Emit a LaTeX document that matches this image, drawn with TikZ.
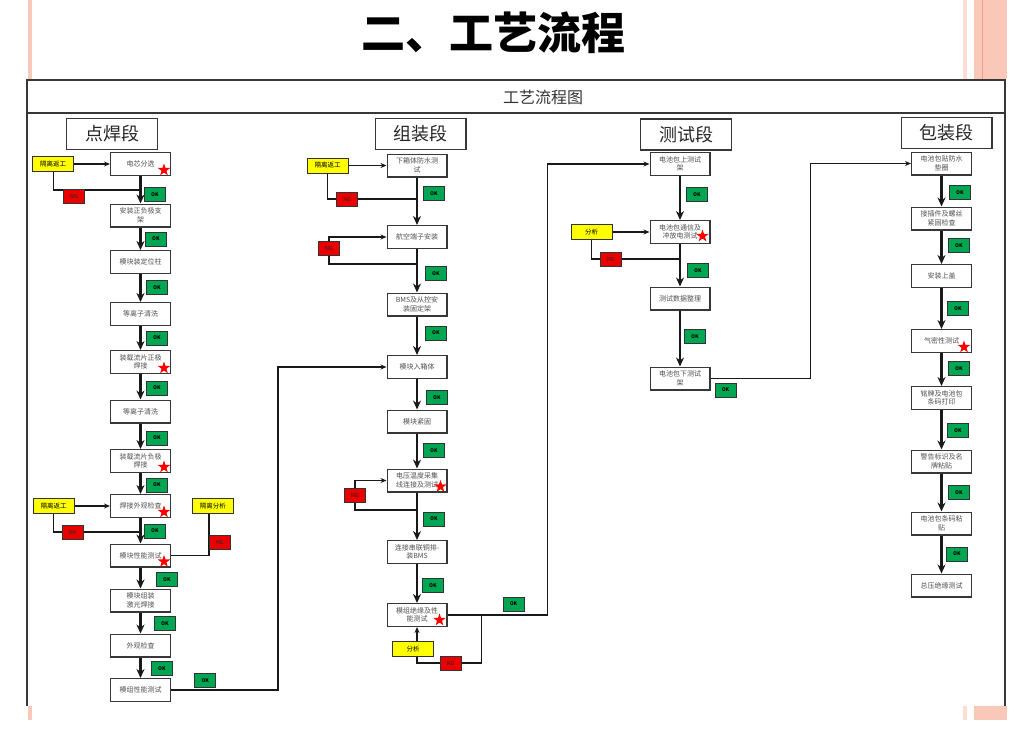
\documentclass[tikz,border=0pt]{standalone}
\usepackage{fontspec}
\setmainfont{Noto Sans CJK SC}
\usetikzlibrary{positioning,arrows.meta,shapes.geometric}
\definecolor{okgreen}{RGB}{0,166,81}
\definecolor{ngred}{RGB}{235,0,0}
\definecolor{holdyellow}{RGB}{255,255,0}
\definecolor{boxline}{RGB}{55,55,55}
\definecolor{lineblack}{RGB}{25,25,25}
\definecolor{textgray}{RGB}{80,80,80}
\definecolor{pinkdeco}{RGB}{250,200,185}
\definecolor{pinkdark}{RGB}{240,160,135}

\begin{document}
\begin{tikzpicture}[x=1pt, y=-1pt,
  proc/.style={draw=boxline, line width=1.4pt, fill=white, align=center, text width=55.6pt, inner xsep=2pt, minimum height=22.6pt, font=\fontsize{7}{8.5}\selectfont, text=textgray},
  head/.style={draw=boxline, line width=1.4pt, fill=white, minimum width=90.6pt, minimum height=30.6pt, font=\fontsize{18}{20}\selectfont, text=black!85},
  okbox/.style={draw=black!80, line width=0.9pt, fill=okgreen, minimum width=21pt, minimum height=14pt, inner sep=0pt, font=\fontsize{5}{6}\selectfont\bfseries, anchor=west},
  ngbox/.style={draw=black!80, line width=0.9pt, fill=ngred, minimum width=21pt, minimum height=14pt, inner sep=0pt, font=\fontsize{5.5}{6}\selectfont, text=black!85},
  holdbox/.style={draw=black!80, line width=0.9pt, fill=holdyellow, minimum width=41pt, minimum height=15pt, inner sep=0pt, font=\fontsize{6.5}{7}\selectfont},
  starmark/.style={star, star points=5, star point ratio=2.5, fill=red, inner sep=0pt, minimum size=13pt},
  arr/.style={-{Stealth[length=9pt,width=8pt]}, line width=2.5pt, draw=lineblack},
  thinarr/.style={-{Stealth[length=6pt,width=5pt]}, line width=1.1pt, draw=lineblack},
  link/.style={line width=1.1pt, draw=lineblack},
  frame/.style={line width=1.3pt, draw=boxline}
]
\useasboundingbox (0,0) rectangle (1027,733);

% slide decoration and frame
\fill[pinkdeco] (28,0) rectangle (32,79);
\fill[pinkdeco!60] (963,0) rectangle (967,79);
\fill[pinkdeco] (974,0) rectangle (1007,79);
\draw[pinkdark, line width=1pt] (982,0) -- (982,79);
\fill[pinkdeco] (28,706) rectangle (32,720);
\fill[pinkdeco!60] (963,706) rectangle (967,720);
\fill[pinkdeco] (974,706) rectangle (1007,720);
\node[font=\fontsize{44}{46}\selectfont\bfseries] (title) at (493,33) {二、工艺流程};
\draw[frame] (27,706) -- (27,80) -- (1005,80) -- (1005,706);
\draw[frame] (27,113) -- (1005,113);
\node[font=\fontsize{16}{18}\selectfont, text=black!80] (charttitle) at (543,97) {工艺流程图};

% stage headers
\node[head] (hd1) at (112,134) {点焊段};
\node[head] (hd2) at (420.5,134) {组装段};
\node[head] (hd3) at (686,134.5) {测试段};
\node[head] (hd4) at (946.5,133) {包装段};

% spot welding
\node[proc] (a1) at (140.5,164) {电芯分选};
\node[proc, below=27.5pt of a1] (a2) {安装正负极支\\架};
\node[proc, below=22.5pt of a2] (a3) {模块装定位柱};
\node[proc, below=28pt of a3] (a4) {等离子清洗};
\node[proc, below=24pt of a4] (a5) {装载流片正极\\焊接};
\node[proc, below=25.5pt of a5] (a6) {等离子清洗};
\node[proc, below=25.5pt of a6] (a7) {装载流片负极\\焊接};
\node[proc, below=21pt of a7] (a8) {焊接外观检查};
\node[proc, below=25.5pt of a8] (a9) {模块性能测试};
\node[proc, below=21pt of a9] (a10) {模块组装\\激光焊接};
\node[proc, below=21pt of a10] (a11) {外观检查};
\node[proc, below=20.5pt of a11] (a12) {模组性能测试};
\draw[arr] (a1) -- node[okbox, pos=.67, xshift=3.5pt] (ok1) {OK} (a2);
\draw[arr] (a2) -- node[okbox, pos=.51, xshift=4.5pt] (ok2) {OK} (a3);
\draw[arr] (a3) -- node[okbox, pos=.48, xshift=5.5pt] (ok3) {OK} (a4);
\draw[arr] (a4) -- node[okbox, pos=.5, xshift=5.5pt] (ok4) {OK} (a5);
\draw[arr] (a5) -- node[okbox, pos=.55, xshift=5.5pt] (ok5) {OK} (a6);
\draw[arr] (a6) -- node[okbox, pos=.57, xshift=5.5pt] (ok6) {OK} (a7);
\draw[arr] (a7) -- node[okbox, pos=.57, xshift=5.5pt] (ok7) {OK} (a8);
\draw[arr] (a8) -- node[okbox, pos=.51, xshift=3.5pt] (ok8) {OK} (a9);
\draw[arr] (a9) -- node[okbox, pos=.57, xshift=15.5pt] (ok9) {OK} (a10);
\draw[arr] (a10) -- node[okbox, pos=.52, xshift=13.5pt] (ok10) {OK} (a11);
\draw[arr] (a11) -- node[okbox, pos=.54, xshift=10.5pt] (ok11) {OK} (a12);
\node[holdbox, left=36pt of a1] (rw1) {隔离返工};
\coordinate (j1) at ([yshift=-14pt]a1.south);
\draw[thinarr] (rw1) -- (a1);
\draw[link] (rw1.south) |- node[ngbox, pos=.62, yshift=-6pt] (ng1) {NG} (j1);
\node[holdbox, left=35.5pt of a8] (rw2) {隔离返工};
\coordinate (j2) at ([yshift=-14pt]a8.south);
\draw[thinarr] (rw2) -- (a8);
\draw[link] (rw2.south) |- node[ngbox, pos=.61] (ng2) {NG} (j2);
\node[holdbox, right=21pt of a8] (an1) {隔离分析};
\draw[link] ([xshift=-4pt]an1.south) |- node[ngbox, pos=.34, anchor=west] (ng3) {NG} (a9.east);

% assembly
\node[proc] (b1) at (417,165.5) {下箱体防水测\\试};
\node[proc, below=47.5pt of b1] (b2) {航空端子安装};
\node[proc, below=43.5pt of b2] (b3) {BMS及从控安\\装固定架};
\node[proc, below=38.5pt of b3] (b4) {模块入箱体};
\node[proc, below=30.5pt of b4] (b5) {模块紧固};
\node[proc, below=35pt of b5] (b6) {电压温度采集\\线连接及测试};
\node[proc, below=47.5pt of b6] (b7) {连接串联铜排-\\装BMS};
\node[proc, below=39pt of b7] (b8) {模组绝缘及性\\能测试};
\draw[arr] (b1) -- node[okbox, pos=.33, xshift=6pt] (ok13) {OK} (b2);
\draw[arr] (b2) -- node[okbox, pos=.56, xshift=8pt] (ok14) {OK} (b3);
\draw[arr] (b3) -- node[okbox, pos=.43, xshift=8pt] (ok15) {OK} (b4);
\draw[arr] (b4) -- node[okbox, pos=.61, xshift=9pt] (ok16) {OK} (b5);
\draw[arr] (b5) -- node[okbox, pos=.49, xshift=6pt] (ok17) {OK} (b6);
\draw[arr] (b6) -- node[okbox, pos=.56, xshift=6pt] (ok18) {OK} (b7);
\draw[arr] (b7) -- node[okbox, pos=.56, xshift=5pt] (ok19) {OK} (b8);
\node[holdbox, left=38pt of b1] (rw3) {隔离返工};
\coordinate (j4) at ([yshift=-21.5pt]b1.south);
\draw[thinarr] (rw3) -- (b1);
\draw[link] (rw3.south) |- node[ngbox, pos=.61] (ng4) {NG} (j4);
\coordinate (j5) at ([yshift=-15pt]b2.south);
\draw[thinarr] (j5) -- ++(-88,0) |- node[ngbox, pos=.28] (ng5) {NG} (b2.west);
\coordinate (j6) at ([yshift=-17.5pt]b6.south);
\draw[thinarr] (j6) -- ++(-62,0) |- node[ngbox, pos=.25] (ng6) {NG} (b6.west);
\coordinate (j8) at ([xshift=34pt]b8.east);
\draw[thinarr] (j8) -- ++(0,48) -| node[ngbox, pos=.24] (ng7) {NG} node[holdbox, pos=.69, xshift=-4pt] (an2) {分析} (b8.south);

% testing
\node[proc] (c1) at (680,164) {电池包上测试\\架};
\node[proc, below=44pt of c1] (c2) {电池包通信及\\冲放电测试};
\node[proc, below=42.5pt of c2] (c3) {测试数据整理};
\node[proc, below=56pt of c3] (c4) {电池包下测试\\架};
\draw[arr] (c1) -- node[okbox, pos=.43, xshift=6pt] (ok21) {OK} (c2);
\draw[arr] (c2) -- node[okbox, pos=.62, xshift=7pt] (ok22) {OK} (c3);
\draw[arr] (c3) -- node[okbox, pos=.46, xshift=4pt] (ok23) {OK} (c4);
\node[holdbox, left=37pt of c2] (an3) {分析};
\coordinate (j7) at ([yshift=-15pt]c2.south);
\draw[thinarr] (an3) -- (c2);
\draw[link] (an3.south) |- node[ngbox, pos=.61] (ng8) {NG} (j7);

% packing
\node[proc] (d1) at (941.5,163.5) {电池包贴防水\\垫圈};
\node[proc, below=31pt of d1] (d2) {接插件及螺丝\\紧固检查};
\node[proc, below=33.5pt of d2] (d3) {安装上盖};
\node[proc, below=41pt of d3] (d4) {气密性测试};
\node[proc, below=33pt of d4] (d5) {铭牌及电池包\\条码打印};
\node[proc, below=39.5pt of d5] (d6) {警告标识及名\\牌粘贴};
\node[proc, below=38pt of d6] (d7) {电池包条码粘\\贴};
\node[proc, below=38pt of d7] (d8) {总压绝缘测试};
\draw[arr] (d1) -- node[okbox, pos=.55, xshift=7.5pt] (ok25) {OK} (d2);
\draw[arr] (d2) -- node[okbox, pos=.45, xshift=6.5pt] (ok26) {OK} (d3);
\draw[arr] (d3) -- node[okbox, pos=.51, xshift=5.5pt] (ok27) {OK} (d4);
\draw[arr] (d4) -- node[okbox, pos=.47, xshift=6.5pt] (ok28) {OK} (d5);
\draw[arr] (d5) -- node[okbox, pos=.51, xshift=5.5pt] (ok29) {OK} (d6);
\draw[arr] (d6) -- node[okbox, pos=.51, xshift=6.5pt] (ok30) {OK} (d7);
\draw[arr] (d7) -- node[okbox, pos=.49, xshift=4.5pt] (ok31) {OK} (d8);

% hand-over between stages
\draw[thinarr] (a12.east) -- node[okbox, pos=.32, anchor=south, yshift=2pt] (ok12) {OK} ++(107,0) |- (b4.west);
\draw[thinarr] (b8.east) -- node[okbox, pos=.66, anchor=south, yshift=3.5pt] (ok20) {OK} ++(100,0) |- (c1.west);
\draw[thinarr] (c4.east) -- node[okbox, pos=.15, anchor=north, yshift=-4pt] (ok24) {OK} ++(100,0) |- (d1.west);

% key steps
\node[starmark] (st1) at ([xshift=-7pt,yshift=6pt]a1.south east) {};
\node[starmark] (st2) at ([xshift=-7pt,yshift=6pt]a5.south east) {};
\node[starmark] (st3) at ([xshift=-7pt,yshift=6pt]a7.south east) {};
\node[starmark] (st4) at ([xshift=-7pt,yshift=6pt]a8.south east) {};
\node[starmark] (st5) at ([xshift=-7pt,yshift=6pt]a9.south east) {};
\node[starmark] (st6) at ([xshift=-7pt,yshift=6pt]b6.south east) {};
\node[starmark] (st7) at ([xshift=-8pt,yshift=7pt]b8.south east) {};
\node[starmark] (st8) at ([xshift=-8pt,yshift=8pt]c2.south east) {};
\node[starmark] (st9) at ([xshift=-8pt,yshift=6pt]d4.south east) {};
\end{tikzpicture}
\end{document}
